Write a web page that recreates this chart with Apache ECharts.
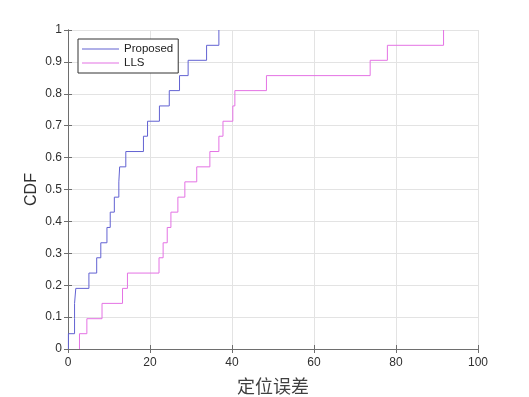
<!DOCTYPE html>
<html>
<head>
<meta charset="utf-8">
<script src="https://cdn.jsdelivr.net/npm/echarts@6/dist/echarts.min.js"></script>
<style>
  html, body { margin: 0; padding: 0; background: #fff; }
  #chart { width: 529px; height: 397px; }
</style>
</head>
<body>
<div id="chart"></div>
<script>
// CDF 级别（21 个样本，每步 1/21）
const cdfLevels = [0, 0.048, 0.095, 0.143, 0.190, 0.238, 0.286, 0.333, 0.381, 0.429, 0.476,
  0.524, 0.571, 0.619, 0.667, 0.714, 0.762, 0.810, 0.857, 0.905, 0.952, 1];

// 各方法的定位误差（排序后，首项为起点）
const proposedErr = [0.1, 0.1, 1.6, 1.6, 1.9, 5.1, 7.0, 8.0, 9.5, 10.3, 11.3,
  12.4, 12.6, 14.1, 18.4, 19.4, 22.3, 24.7, 27.2, 29.3, 33.8, 36.8];
const llsErr = [2.8, 2.8, 4.6, 8.3, 13.3, 14.5, 22.2, 23.2, 24.2, 25.1, 26.8,
  28.5, 31.4, 34.6, 36.8, 37.8, 40.2, 40.7, 48.4, 73.7, 77.9, 91.6];

const seriesNames = ['Proposed', 'LLS'];
const xTicks = { min: 0, max: 100, interval: 20 };
const yTicks = { min: 0, max: 1, interval: 0.1 };

function pairs(xs, ys) {
  return xs.map((x, i) => [x, ys[i]]);
}

const chart = echarts.init(document.getElementById('chart'));

const axisColor = '#6e6e6e';
const labelColor = '#303030';
const font = 'Liberation Sans, Arial, sans-serif';
const colProposed = '#6262d2';
const colLLS = '#e472e4';

const boxAxisBase = {
  axisLine: { show: true, lineStyle: { color: axisColor, width: 1 } },
  axisTick: { show: true, inside: true, length: 4, lineStyle: { color: axisColor } },
};

chart.setOption({
  animation: false,
  grid: { left: 68, right: 51, top: 30, bottom: 48, outerBoundsMode: 'none' },
  legend: {
    orient: 'vertical',
    left: 78,
    top: 39,
    icon: 'rect',
    itemWidth: 37,
    itemHeight: 1,
    itemGap: 0,
    padding: [3, 5, 3, 4],
    borderColor: '#333',
    borderWidth: 1,
    backgroundColor: '#fff',
    textStyle: { fontFamily: font, fontSize: 11.5, color: '#222', lineHeight: 14 },
    data: seriesNames,
  },
  xAxis: [
    {
      type: 'value', ...xTicks, ...boxAxisBase,
      name: '定位误差', nameLocation: 'middle', nameGap: 28, nameMoveOverlap: false,
      nameTextStyle: { fontFamily: 'Noto Sans CJK SC', fontSize: 18, color: '#404040' },
      axisLabel: { fontFamily: font, fontSize: 12, color: labelColor, margin: 8 },
      splitLine: { show: true, lineStyle: { color: '#e3e3e3', width: 1 } },
    },
    {
      type: 'value', position: 'top', ...xTicks, ...boxAxisBase,
      axisLabel: { show: false }, splitLine: { show: false },
    },
  ],
  yAxis: [
    {
      type: 'value', ...yTicks, ...boxAxisBase,
      name: 'CDF', nameLocation: 'middle', nameGap: 28, nameRotate: 90, nameMoveOverlap: false,
      nameTextStyle: { fontFamily: font, fontSize: 16, color: '#303030' },
      axisLabel: { fontFamily: font, fontSize: 12, color: labelColor, margin: 6 },
      splitLine: { show: true, lineStyle: { color: '#e3e3e3', width: 1 } },
    },
    {
      type: 'value', position: 'right', ...yTicks, ...boxAxisBase,
      axisLabel: { show: false }, splitLine: { show: false },
    },
  ],
  series: [
    {
      name: seriesNames[0],
      type: 'line',
      step: 'end',
      symbol: 'none',
      data: pairs(proposedErr, cdfLevels),
      lineStyle: { color: colProposed, width: 1 },
      itemStyle: { color: colProposed },
      z: 3,
    },
    {
      name: seriesNames[1],
      type: 'line',
      step: 'end',
      symbol: 'none',
      data: pairs(llsErr, cdfLevels),
      lineStyle: { color: colLLS, width: 1 },
      itemStyle: { color: colLLS },
      z: 2,
    },
  ],
});
</script>
</body>
</html>
